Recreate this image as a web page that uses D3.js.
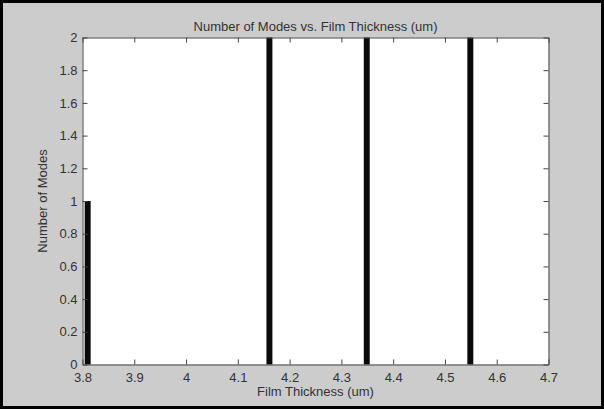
<!DOCTYPE html>
<html><head><meta charset="utf-8">
<script src="https://cdn.jsdelivr.net/npm/d3@7"></script>
<style>html,body{margin:0;padding:0;background:#fff;}svg{display:block;}</style>
</head><body>
<script>
const thickness = [3.81, 4.161, 4.349, 4.549];
const modes = [1, 2, 2, 2];
const xTicks = [3.8, 3.9, 4.0, 4.1, 4.2, 4.3, 4.4, 4.5, 4.6, 4.7];
const xTickLabels = ["3.8","3.9","4","4.1","4.2","4.3","4.4","4.5","4.6","4.7"];
const yTicks = [0, 0.2, 0.4, 0.6, 0.8, 1, 1.2, 1.4, 1.6, 1.8, 2];
const yTickLabels = ["0","0.2","0.4","0.6","0.8","1","1.2","1.4","1.6","1.8","2"];
const barWidth = 0.0115;

const W = 604, H = 409;
const L = 82.5, R = 548.5, T = 37.5, B = 364.5;
const svg = d3.select("body").append("svg").attr("width", W).attr("height", H);
svg.append("rect").attr("x",1.5).attr("y",1.5).attr("width",W-3).attr("height",H-3)
  .attr("fill","#cccccc").attr("stroke","#000").attr("stroke-width",3);

const x = d3.scaleLinear().domain([3.8, 4.7]).range([L, R]);
const y = d3.scaleLinear().domain([0, 2]).range([B, T]);

svg.append("rect").attr("x",L).attr("y",T).attr("width",R-L).attr("height",B-T).attr("fill","#fff");

svg.selectAll(".bar").data(thickness).enter().append("rect")
  .attr("x", d => x(d - barWidth/2))
  .attr("width", d => x(d + barWidth/2) - x(d - barWidth/2))
  .attr("y", (d,i) => y(modes[i]))
  .attr("height", (d,i) => y(0) - y(modes[i]))
  .attr("fill", "#0a0a0a");

const font = "Arial, 'Liberation Sans', Helvetica, sans-serif";
const fs = 13;
const tc = "#333";
const tl = 5;
const xb = svg.append("g").attr("transform",`translate(0,${B})`)
  .call(d3.axisBottom(x).tickValues(xTicks).tickFormat((d,i)=>xTickLabels[i]).tickSizeInner(-tl).tickSizeOuter(0).tickPadding(8));
const xt = svg.append("g").attr("transform",`translate(0,${T})`)
  .call(d3.axisTop(x).tickValues(xTicks).tickFormat("").tickSizeInner(-tl).tickSizeOuter(0));
const yl = svg.append("g").attr("transform",`translate(${L},0)`)
  .call(d3.axisLeft(y).tickValues(yTicks).tickFormat((d,i)=>yTickLabels[i]).tickSizeInner(-tl).tickSizeOuter(0).tickPadding(5));
const yr = svg.append("g").attr("transform",`translate(${R},0)`)
  .call(d3.axisRight(y).tickValues(yTicks).tickFormat("").tickSizeInner(-tl).tickSizeOuter(0));
[xb,xt,yl,yr].forEach(g=>{
  g.selectAll("path").attr("stroke","#444").attr("stroke-width",1);
  g.selectAll("line").attr("stroke","#444");
  g.selectAll("text").attr("font-family",font).attr("font-size",fs).attr("fill",tc);
});
xb.selectAll("text").attr("dy","0.71em");

svg.append("text").attr("x",(L+R)/2).attr("y",31).attr("text-anchor","middle")
  .attr("font-family",font).attr("font-size",fs).attr("fill",tc)
  .text("Number of Modes vs. Film Thickness (um)");
svg.append("text").attr("x",(L+R)/2).attr("y",396).attr("text-anchor","middle")
  .attr("font-family",font).attr("font-size",fs).attr("fill",tc)
  .text("Film Thickness (um)");
svg.append("text").attr("transform",`translate(47,${(T+B)/2}) rotate(-90)`).attr("text-anchor","middle")
  .attr("font-family",font).attr("font-size",fs).attr("fill",tc)
  .text("Number of Modes");
</script>
</body></html>
